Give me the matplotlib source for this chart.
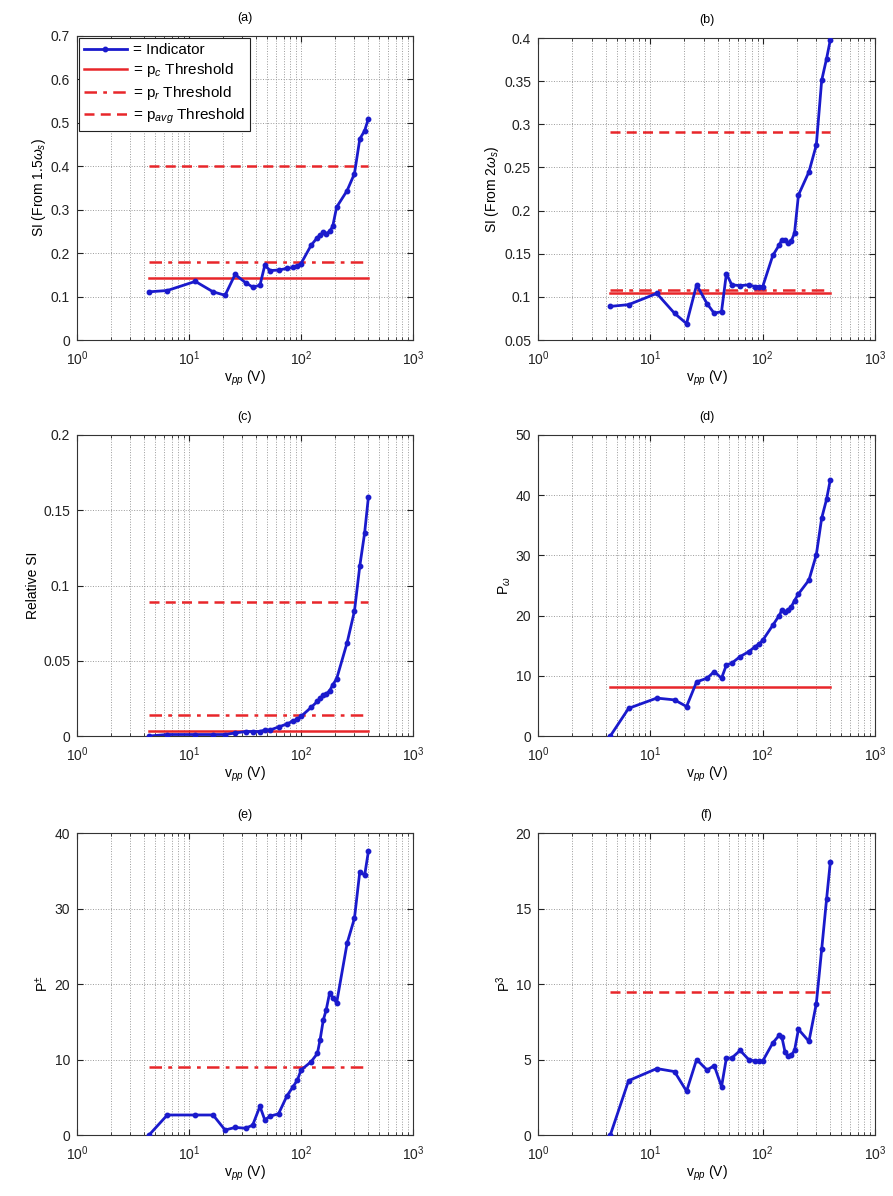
import numpy as np
import matplotlib
matplotlib.use('Agg')
import matplotlib.pyplot as plt
import matplotlib.ticker

plt.rcParams['font.family'] = ['Liberation Sans', 'DejaVu Sans']
plt.rcParams['font.size'] = 9
plt.rcParams['mathtext.fontset'] = 'custom'
plt.rcParams['mathtext.rm'] = 'Liberation Sans'
plt.rcParams['mathtext.it'] = 'Liberation Sans:italic'

# peak-to-peak drive voltage (V)
vpp = [4.4, 6.4, 11.4, 16.4, 21, 25.8, 32, 37, 43, 47.5, 53, 63, 75, 85, 93,
       100, 123, 140, 148, 158, 168, 180, 192, 208, 258, 300, 335, 370, 400]

si_15 = [0.111, 0.114, 0.135, 0.111, 0.103, 0.151, 0.132, 0.122, 0.126, 0.172,
         0.160, 0.161, 0.165, 0.167, 0.170, 0.176, 0.218, 0.236, 0.241, 0.248,
         0.245, 0.250, 0.262, 0.306, 0.344, 0.383, 0.463, 0.482, 0.510]
si_2 = [0.089, 0.091, 0.104, 0.081, 0.069, 0.114, 0.092, 0.081, 0.083, 0.127,
        0.114, 0.113, 0.114, 0.112, 0.112, 0.112, 0.148, 0.160, 0.166, 0.166,
        0.162, 0.165, 0.174, 0.218, 0.245, 0.276, 0.351, 0.376, 0.398]
rel_si = [0.0, 0.001, 0.001, 0.001, 0.001, 0.002, 0.003, 0.003, 0.003, 0.004,
          0.004, 0.006, 0.008, 0.010, 0.011, 0.013, 0.019, 0.023, 0.025, 0.027,
          0.028, 0.030, 0.034, 0.038, 0.062, 0.083, 0.113, 0.135, 0.159]
p_d = [0, 4.6, 6.3, 6.0, 4.9, 9.0, 9.6, 10.7, 9.6, 11.8, 12.1, 13.2, 14.0, 14.8,
       15.3, 15.9, 18.4, 20.0, 20.9, 20.6, 20.9, 21.5, 22.5, 23.6, 25.9, 30.1,
       36.2, 39.3, 42.6]
p_e = [0, 2.65, 2.65, 2.65, 0.66, 1.0, 0.9, 1.3, 3.8, 2.0, 2.5, 2.8, 5.2, 6.4,
       7.3, 8.6, 9.7, 10.8, 12.6, 15.2, 16.6, 18.8, 18.2, 17.5, 25.4, 28.7,
       34.9, 34.4, 37.6]
p_f = [0, 3.6, 4.4, 4.2, 2.9, 5.0, 4.3, 4.6, 3.2, 5.1, 5.1, 5.6, 5.0, 4.9,
       4.9, 4.9, 6.1, 6.6, 6.5, 5.5, 5.2, 5.3, 5.6, 7.0, 6.2, 8.7, 12.3, 15.6, 18.1]

# threshold levels: (p_c, p_r, p_avg); None where not drawn
thr_a = (0.143, 0.180, 0.400)
thr_b = (0.105, 0.108, 0.291)
thr_c = (0.0035, 0.014, 0.089)
thr_d = (8.2, None, None)
thr_e = (None, 9.05, None)
thr_f = (None, None, 9.45)

panels = [
    ('(a)', si_15, thr_a, 'SI (From 1.5$\\omega_s$)', (0, 0.7), 0.1),
    ('(b)', si_2, thr_b, 'SI (From 2$\\omega_s$)', (0.05, 0.4), 0.05),
    ('(c)', rel_si, thr_c, 'Relative SI', (0, 0.2), 0.05),
    ('(d)', p_d, thr_d, 'P$_{\\omega}$', (0, 50), 10),
    ('(e)', p_e, thr_e, 'P$^{\\pm}$', (0, 40), 10),
    ('(f)', p_f, thr_f, 'P$^{3}$', (0, 20), 5),
]

positions = [
    [0.0862, 0.7157, 0.3763, 0.2542],
    [0.6025, 0.7157, 0.3774, 0.2525],
    [0.0862, 0.3846, 0.3763, 0.2517],
    [0.6025, 0.3846, 0.3774, 0.2517],
    [0.0862, 0.0510, 0.3763, 0.2525],
    [0.6025, 0.0510, 0.3774, 0.2525],
]

blue = '#1a1acc'
red = '#e8262a'
thr_styles = ['-', (0, (5, 2.5, 1.5, 2.5)), (0, (4, 2.5))]
thr_names = ['= p$_c$ Threshold', '= p$_r$ Threshold', '= p$_{avg}$ Threshold']

fig = plt.figure(figsize=(8.93, 11.96), dpi=100)

for idx, (title, vals, thr, ylab, ylim, ystep) in enumerate(panels):
    ax = fig.add_axes(positions[idx])
    ax.plot(vpp, vals, color=blue, lw=2.0, marker='o', ms=3.2,
            label='= Indicator', zorder=4)
    for k in range(3):
        if thr[k] is None:
            continue
        ax.plot([vpp[0], vpp[-1]], [thr[k], thr[k]], color=red, lw=1.8,
                linestyle=thr_styles[k], label=thr_names[k], zorder=3)

    ax.set_xscale('log')
    ax.set_xlim(1, 1000)
    ax.set_ylim(*ylim)
    ax.xaxis.set_major_locator(matplotlib.ticker.LogLocator(base=10, numticks=5))
    ax.xaxis.set_minor_locator(matplotlib.ticker.LogLocator(base=10, subs=np.arange(2, 10), numticks=12))
    ax.xaxis.set_minor_formatter(matplotlib.ticker.NullFormatter())
    ax.yaxis.set_major_locator(matplotlib.ticker.MultipleLocator(ystep))
    ax.yaxis.set_major_formatter(matplotlib.ticker.FuncFormatter(
        lambda v, p: ('%g' % round(v, 3))))

    ax.grid(True, which='major', color='#9a9a9a', linestyle=':', lw=0.7)
    ax.grid(True, which='minor', axis='x', color='#9a9a9a', linestyle=':', lw=0.7)
    ax.tick_params(which='both', direction='in', top=True, right=True,
                   labelsize=10, colors='#222222')
    ax.tick_params(which='major', length=4)
    ax.tick_params(which='minor', length=2)
    ax.tick_params(axis='x', which='major', pad=7)
    ax.tick_params(axis='y', which='major', pad=5)
    for sp in ax.spines.values():
        sp.set_color('#333333')
        sp.set_linewidth(0.8)

    ax.set_title(title, fontsize=9, pad=11)
    ax.set_xlabel('v$_{pp}$ (V)', fontsize=10, labelpad=0)
    ax.set_ylabel(ylab, fontsize=10, labelpad=2)

    if idx == 0:
        leg = ax.legend(loc='upper left', fontsize=11, frameon=True,
                        fancybox=False, borderaxespad=0.15, handlelength=2.8,
                        handletextpad=0.4, labelspacing=0.3, borderpad=0.3)
        leg.get_frame().set_edgecolor('#222222')
        leg.get_frame().set_linewidth(0.8)
        leg.get_frame().set_alpha(1)

fig.savefig('out.png', dpi=100)
